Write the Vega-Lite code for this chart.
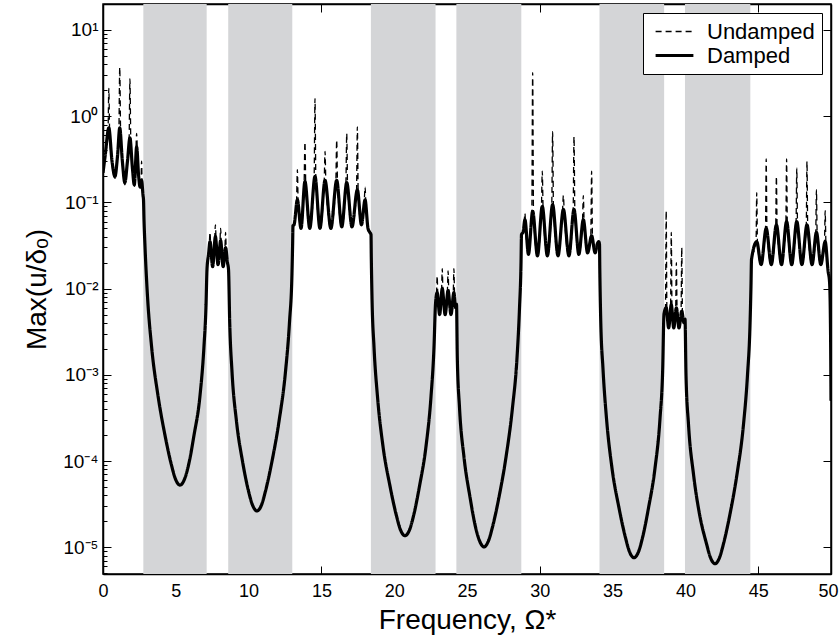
{
"$schema":"https://vega.github.io/schema/vega-lite/v6.json",
"width":728,"height":570,
"autosize":{"type":"none"},
"padding":{"left":103,"top":4,"right":8,"bottom":67},
"background":"white",
"config":{"view":{"stroke":"black","strokeWidth":1.5},"font":"Liberation Sans",
"axis":{"labelFont":"Liberation Sans","titleFont":"Liberation Sans","labelColor":"black","titleColor":"black","domainColor":"black","tickColor":"black","grid":false,"domainWidth":1.5,"tickWidth":1,"titleFontWeight":"normal"}},
"datasets":{
"bands":[{"a":2.77,"b":7.12},{"a":8.6,"b":13.0},{"a":18.4,"b":22.84},{"a":24.27,"b":28.73},{"a":34.1,"b":38.54},{"a":39.97,"b":44.46}],
"curves":[
{"k":"D","f":0,"m":0.22},{"k":"D","f":0.15,"m":0.35},{"k":"D","f":0.4,"m":0.73},{"k":"D","f":0.62,"m":0.3},{"k":"D","f":0.82,"m":0.2},{"k":"D","f":1.0,"m":0.35},{"k":"D","f":1.15,"m":0.73},{"k":"D","f":1.33,"m":0.3},{"k":"D","f":1.5,"m":0.17},{"k":"D","f":1.68,"m":0.3},{"k":"D","f":1.85,"m":0.56},{"k":"D","f":2.02,"m":0.25},{"k":"D","f":2.15,"m":0.16},{"k":"D","f":2.31,"m":0.44},{"k":"D","f":2.45,"m":0.2},{"k":"D","f":2.55,"m":0.15},{"k":"D","f":2.65,"m":0.18},{"k":"D","f":2.75,"m":0.12},
{"k":"U","f":0,"m":0.22},{"k":"U","f":0.15,"m":0.35},{"k":"U","f":0.34,"m":0.6},{"k":"U","f":0.4,"m":2.1},{"k":"U","f":0.46,"m":0.6},{"k":"U","f":0.62,"m":0.28},{"k":"U","f":0.82,"m":0.19},{"k":"U","f":1.0,"m":0.35},{"k":"U","f":1.09,"m":0.65},{"k":"U","f":1.15,"m":3.7},{"k":"U","f":1.21,"m":0.65},{"k":"U","f":1.33,"m":0.28},{"k":"U","f":1.5,"m":0.16},{"k":"U","f":1.68,"m":0.3},{"k":"U","f":1.79,"m":0.5},{"k":"U","f":1.85,"m":2.7},{"k":"U","f":1.91,"m":0.5},{"k":"U","f":2.02,"m":0.24},{"k":"U","f":2.15,"m":0.15},{"k":"U","f":2.26,"m":0.4},{"k":"U","f":2.31,"m":0.63},{"k":"U","f":2.36,"m":0.4},{"k":"U","f":2.45,"m":0.2},{"k":"U","f":2.55,"m":0.15},{"k":"U","f":2.62,"m":0.2},{"k":"U","f":2.65,"m":0.3},{"k":"U","f":2.68,"m":0.18},{"k":"U","f":2.75,"m":0.12},
{"k":"B","f":2.782,"m":0.107},{"k":"B","f":2.816,"m":0.0631},{"k":"B","f":2.885,"m":0.0308},{"k":"B","f":3.056,"m":0.00817},{"k":"B","f":3.331,"m":0.00217},{"k":"B","f":3.777,"m":0.000574},{"k":"B","f":4.258,"m":0.000199},{"k":"B","f":4.705,"m":0.0000895},{"k":"B","f":4.979,"m":0.0000617},{"k":"B","f":5.288,"m":0.0000526},{"k":"B","f":5.597,"m":0.0000617},{"k":"B","f":5.872,"m":0.0000895},{"k":"B","f":6.25,"m":0.000199},{"k":"B","f":6.662,"m":0.000574},{"k":"B","f":6.937,"m":0.00217},{"k":"B","f":7.074,"m":0.00627},{"k":"B","f":7.143,"m":0.01675},
{"k":"D","f":7.25,"m":0.025},{"k":"D","f":7.35,"m":0.035},{"k":"D","f":7.53,"m":0.018},{"k":"D","f":7.72,"m":0.04},{"k":"D","f":7.9,"m":0.019},{"k":"D","f":8.08,"m":0.036},{"k":"D","f":8.25,"m":0.018},{"k":"D","f":8.42,"m":0.03},{"k":"D","f":8.55,"m":0.02},
{"k":"U","f":7.25,"m":0.025},{"k":"U","f":7.3,"m":0.033},{"k":"U","f":7.35,"m":0.045},{"k":"U","f":7.4,"m":0.03},{"k":"U","f":7.53,"m":0.018},{"k":"U","f":7.67,"m":0.037},{"k":"U","f":7.72,"m":0.055},{"k":"U","f":7.77,"m":0.035},{"k":"U","f":7.9,"m":0.019},{"k":"U","f":8.03,"m":0.034},{"k":"U","f":8.08,"m":0.05},{"k":"U","f":8.13,"m":0.03},{"k":"U","f":8.25,"m":0.018},{"k":"U","f":8.37,"m":0.028},{"k":"U","f":8.42,"m":0.045},{"k":"U","f":8.47,"m":0.025},{"k":"U","f":8.55,"m":0.02},
{"k":"B","f":8.62,"m":0.01675},{"k":"B","f":8.702,"m":0.00409},{"k":"B","f":8.86,"m":0.00109},{"k":"B","f":9.169,"m":0.000288},{"k":"B","f":9.581,"m":0.0000995},{"k":"B","f":9.993,"m":0.0000449},{"k":"B","f":10.268,"m":0.0000309},{"k":"B","f":10.577,"m":0.0000264},{"k":"B","f":10.886,"m":0.0000309},{"k":"B","f":11.161,"m":0.0000449},{"k":"B","f":11.607,"m":0.0000995},{"k":"B","f":12.088,"m":0.000288},{"k":"B","f":12.534,"m":0.00109},{"k":"B","f":12.809,"m":0.00409},{"k":"B","f":12.981,"m":0.01545},{"k":"B","f":13.022,"m":0.0317},{"k":"B","f":13.049,"m":0.0538},
{"k":"D","f":13.12,"m":0.055},{"k":"D","f":13.35,"m":0.107},{"k":"D","f":13.6,"m":0.05},{"k":"D","f":13.87,"m":0.175},{"k":"D","f":14.2,"m":0.05},{"k":"D","f":14.56,"m":0.2},{"k":"D","f":14.9,"m":0.05},{"k":"D","f":15.25,"m":0.18},{"k":"D","f":15.65,"m":0.05},{"k":"D","f":16.05,"m":0.18},{"k":"D","f":16.4,"m":0.052},{"k":"D","f":16.74,"m":0.17},{"k":"D","f":17.1,"m":0.052},{"k":"D","f":17.47,"m":0.14},{"k":"D","f":17.75,"m":0.055},{"k":"D","f":18.0,"m":0.107},{"k":"D","f":18.2,"m":0.05},{"k":"D","f":18.32,"m":0.045},
{"k":"U","f":13.12,"m":0.055},{"k":"U","f":13.29,"m":0.1},{"k":"U","f":13.35,"m":0.24},{"k":"U","f":13.41,"m":0.09},{"k":"U","f":13.6,"m":0.05},{"k":"U","f":13.81,"m":0.16},{"k":"U","f":13.87,"m":0.5},{"k":"U","f":13.93,"m":0.15},{"k":"U","f":14.2,"m":0.05},{"k":"U","f":14.5,"m":0.19},{"k":"U","f":14.56,"m":1.6},{"k":"U","f":14.62,"m":0.18},{"k":"U","f":14.9,"m":0.05},{"k":"U","f":15.19,"m":0.17},{"k":"U","f":15.25,"m":0.39},{"k":"U","f":15.31,"m":0.16},{"k":"U","f":15.65,"m":0.05},{"k":"U","f":15.99,"m":0.17},{"k":"U","f":16.05,"m":0.53},{"k":"U","f":16.11,"m":0.16},{"k":"U","f":16.4,"m":0.052},{"k":"U","f":16.68,"m":0.16},{"k":"U","f":16.74,"m":0.63},{"k":"U","f":16.8,"m":0.15},{"k":"U","f":17.1,"m":0.052},{"k":"U","f":17.41,"m":0.13},{"k":"U","f":17.47,"m":0.75},{"k":"U","f":17.53,"m":0.12},{"k":"U","f":17.75,"m":0.055},{"k":"U","f":17.94,"m":0.1},{"k":"U","f":18.0,"m":0.15},{"k":"U","f":18.06,"m":0.09},{"k":"U","f":18.2,"m":0.05},{"k":"U","f":18.32,"m":0.045},
{"k":"B","f":18.407,"m":0.0424},{"k":"B","f":18.427,"m":0.023},{"k":"B","f":18.475,"m":0.00796},{"k":"B","f":18.613,"m":0.00211},{"k":"B","f":18.853,"m":0.000558},{"k":"B","f":19.231,"m":0.000148},{"k":"B","f":19.712,"m":0.0000512},{"k":"B","f":20.158,"m":0.0000231},{"k":"B","f":20.433,"m":0.0000159},{"k":"B","f":20.742,"m":0.0000136},{"k":"B","f":21.051,"m":0.0000159},{"k":"B","f":21.326,"m":0.0000231},{"k":"B","f":21.738,"m":0.0000512},{"k":"B","f":22.184,"m":0.000148},{"k":"B","f":22.527,"m":0.000558},{"k":"B","f":22.734,"m":0.00211},{"k":"B","f":22.837,"m":0.00661},
{"k":"D","f":22.95,"m":0.009},{"k":"D","f":23.12,"m":0.005},{"k":"D","f":23.3,"m":0.01},{"k":"D","f":23.5,"m":0.005},{"k":"D","f":23.7,"m":0.0095},{"k":"D","f":23.9,"m":0.005},{"k":"D","f":24.1,"m":0.009},{"k":"D","f":24.22,"m":0.006},
{"k":"U","f":22.9,"m":0.008},{"k":"U","f":22.95,"m":0.014},{"k":"U","f":23.0,"m":0.008},{"k":"U","f":23.12,"m":0.005},{"k":"U","f":23.25,"m":0.009},{"k":"U","f":23.3,"m":0.017},{"k":"U","f":23.35,"m":0.009},{"k":"U","f":23.5,"m":0.005},{"k":"U","f":23.65,"m":0.009},{"k":"U","f":23.7,"m":0.016},{"k":"U","f":23.75,"m":0.009},{"k":"U","f":23.9,"m":0.005},{"k":"U","f":24.05,"m":0.008},{"k":"U","f":24.1,"m":0.017},{"k":"U","f":24.15,"m":0.008},{"k":"U","f":24.22,"m":0.006},
{"k":"B","f":24.279,"m":0.00661},{"k":"B","f":24.334,"m":0.00157},{"k":"B","f":24.485,"m":0.000418},{"k":"B","f":24.794,"m":0.000111},{"k":"B","f":25.206,"m":0.0000382},{"k":"B","f":25.584,"m":0.0000172},{"k":"B","f":25.859,"m":0.0000119},{"k":"B","f":26.168,"m":0.0000101},{"k":"B","f":26.477,"m":0.0000119},{"k":"B","f":26.752,"m":0.0000172},{"k":"B","f":27.198,"m":0.0000382},{"k":"B","f":27.679,"m":0.000111},{"k":"B","f":28.125,"m":0.000418},{"k":"B","f":28.434,"m":0.00157},{"k":"B","f":28.606,"m":0.00594},{"k":"B","f":28.709,"m":0.0196},{"k":"B","f":28.743,"m":0.0424},
{"k":"D","f":28.85,"m":0.045},{"k":"D","f":28.98,"m":0.063},{"k":"D","f":29.22,"m":0.025},{"k":"D","f":29.51,"m":0.079},{"k":"D","f":29.84,"m":0.024},{"k":"D","f":30.17,"m":0.09},{"k":"D","f":30.52,"m":0.024},{"k":"D","f":30.88,"m":0.094},{"k":"D","f":31.25,"m":0.024},{"k":"D","f":31.62,"m":0.083},{"k":"D","f":32.0,"m":0.024},{"k":"D","f":32.35,"m":0.083},{"k":"D","f":32.68,"m":0.025},{"k":"D","f":32.99,"m":0.063},{"k":"D","f":33.28,"m":0.026},{"k":"D","f":33.56,"m":0.041},{"k":"D","f":33.8,"m":0.026},{"k":"D","f":33.95,"m":0.033},{"k":"D","f":34.05,"m":0.035},
{"k":"U","f":28.85,"m":0.045},{"k":"U","f":28.93,"m":0.06},{"k":"U","f":28.98,"m":0.075},{"k":"U","f":29.03,"m":0.05},{"k":"U","f":29.22,"m":0.025},{"k":"U","f":29.45,"m":0.075},{"k":"U","f":29.51,"m":3.2},{"k":"U","f":29.57,"m":0.07},{"k":"U","f":29.84,"m":0.024},{"k":"U","f":30.11,"m":0.085},{"k":"U","f":30.17,"m":0.23},{"k":"U","f":30.23,"m":0.08},{"k":"U","f":30.52,"m":0.024},{"k":"U","f":30.82,"m":0.09},{"k":"U","f":30.88,"m":0.66},{"k":"U","f":30.94,"m":0.085},{"k":"U","f":31.25,"m":0.024},{"k":"U","f":31.56,"m":0.08},{"k":"U","f":31.62,"m":0.12},{"k":"U","f":31.68,"m":0.075},{"k":"U","f":32.0,"m":0.024},{"k":"U","f":32.29,"m":0.08},{"k":"U","f":32.35,"m":0.58},{"k":"U","f":32.41,"m":0.075},{"k":"U","f":32.68,"m":0.025},{"k":"U","f":32.93,"m":0.06},{"k":"U","f":32.99,"m":0.12},{"k":"U","f":33.05,"m":0.055},{"k":"U","f":33.28,"m":0.026},{"k":"U","f":33.5,"m":0.04},{"k":"U","f":33.56,"m":0.23},{"k":"U","f":33.62,"m":0.038},{"k":"U","f":33.8,"m":0.026},{"k":"U","f":33.95,"m":0.033},{"k":"U","f":34.05,"m":0.035},
{"k":"B","f":34.1,"m":0.0325},{"k":"B","f":34.121,"m":0.01675},{"k":"B","f":34.183,"m":0.00444},{"k":"B","f":34.341,"m":0.00117},{"k":"B","f":34.581,"m":0.000312},{"k":"B","f":34.959,"m":0.0000826},{"k":"B","f":35.44,"m":0.0000286},{"k":"B","f":35.886,"m":0.0000129},{"k":"B","f":36.161,"m":0.00000887},{"k":"B","f":36.47,"m":0.00000757},{"k":"B","f":36.779,"m":0.00000887},{"k":"B","f":37.054,"m":0.0000129},{"k":"B","f":37.466,"m":0.0000286},{"k":"B","f":37.912,"m":0.0000826},{"k":"B","f":38.256,"m":0.000312},{"k":"B","f":38.441,"m":0.00117},{"k":"B","f":38.53,"m":0.00507},
{"k":"D","f":38.68,"m":0.006},{"k":"D","f":38.85,"m":0.0035},{"k":"D","f":39.03,"m":0.0065},{"k":"D","f":39.2,"m":0.0035},{"k":"D","f":39.38,"m":0.006},{"k":"D","f":39.56,"m":0.0035},{"k":"D","f":39.75,"m":0.0055},{"k":"D","f":39.9,"m":0.004},
{"k":"U","f":38.63,"m":0.0055},{"k":"U","f":38.68,"m":0.08},{"k":"U","f":38.73,"m":0.0055},{"k":"U","f":38.85,"m":0.0035},{"k":"U","f":38.98,"m":0.006},{"k":"U","f":39.03,"m":0.045},{"k":"U","f":39.08,"m":0.006},{"k":"U","f":39.2,"m":0.0035},{"k":"U","f":39.33,"m":0.0055},{"k":"U","f":39.38,"m":0.02},{"k":"U","f":39.43,"m":0.0055},{"k":"U","f":39.56,"m":0.0035},{"k":"U","f":39.7,"m":0.005},{"k":"U","f":39.75,"m":0.03},{"k":"U","f":39.8,"m":0.005},{"k":"U","f":39.9,"m":0.004},
{"k":"B","f":39.973,"m":0.00444},{"k":"B","f":40.041,"m":0.001},{"k":"B","f":40.213,"m":0.000266},{"k":"B","f":40.556,"m":0.0000705},{"k":"B","f":40.968,"m":0.0000243},{"k":"B","f":41.449,"m":0.000011},{"k":"B","f":41.724,"m":0.00000757},{"k":"B","f":42.033,"m":0.00000645},{"k":"B","f":42.342,"m":0.00000757},{"k":"B","f":42.617,"m":0.000011},{"k":"B","f":43.063,"m":0.0000243},{"k":"B","f":43.544,"m":0.0000705},{"k":"B","f":43.99,"m":0.000266},{"k":"B","f":44.265,"m":0.001},{"k":"B","f":44.437,"m":0.00378},{"k":"B","f":44.505,"m":0.01094},{"k":"B","f":44.54,"m":0.0218},
{"k":"D","f":44.9,"m":0.035},{"k":"D","f":45.2,"m":0.019},{"k":"D","f":45.55,"m":0.05},{"k":"D","f":45.9,"m":0.019},{"k":"D","f":46.25,"m":0.055},{"k":"D","f":46.6,"m":0.019},{"k":"D","f":46.95,"m":0.06},{"k":"D","f":47.3,"m":0.019},{"k":"D","f":47.65,"m":0.06},{"k":"D","f":48.0,"m":0.019},{"k":"D","f":48.35,"m":0.055},{"k":"D","f":48.7,"m":0.019},{"k":"D","f":49.0,"m":0.045},{"k":"D","f":49.3,"m":0.019},{"k":"D","f":49.6,"m":0.035},{"k":"D","f":49.8,"m":0.016},
{"k":"U","f":44.85,"m":0.033},{"k":"U","f":44.9,"m":0.13},{"k":"U","f":44.95,"m":0.033},{"k":"U","f":45.2,"m":0.019},{"k":"U","f":45.5,"m":0.048},{"k":"U","f":45.55,"m":0.32},{"k":"U","f":45.6,"m":0.048},{"k":"U","f":45.9,"m":0.019},{"k":"U","f":46.2,"m":0.052},{"k":"U","f":46.25,"m":0.2},{"k":"U","f":46.3,"m":0.052},{"k":"U","f":46.6,"m":0.019},{"k":"U","f":46.9,"m":0.058},{"k":"U","f":46.95,"m":0.32},{"k":"U","f":47.0,"m":0.058},{"k":"U","f":47.3,"m":0.019},{"k":"U","f":47.6,"m":0.058},{"k":"U","f":47.65,"m":0.25},{"k":"U","f":47.7,"m":0.058},{"k":"U","f":48.0,"m":0.019},{"k":"U","f":48.3,"m":0.052},{"k":"U","f":48.35,"m":0.3},{"k":"U","f":48.4,"m":0.052},{"k":"U","f":48.7,"m":0.019},{"k":"U","f":48.95,"m":0.043},{"k":"U","f":49.0,"m":0.14},{"k":"U","f":49.05,"m":0.043},{"k":"U","f":49.3,"m":0.019},{"k":"U","f":49.55,"m":0.033},{"k":"U","f":49.6,"m":0.08},{"k":"U","f":49.65,"m":0.033},{"k":"U","f":49.8,"m":0.016},
{"k":"B","f":49.9,"m":0.012},{"k":"B","f":49.97,"m":0.003},{"k":"B","f":50,"m":0.0005}
]},
"layer":[
{"data":{"name":"bands"},"mark":{"type":"rect","color":"#d4d5d7"},
 "encoding":{"x":{"field":"a","type":"quantitative","scale":{"domain":[0,50],"nice":false,"zero":false},"axis":null},"x2":{"field":"b"}}},
{"data":{"name":"curves"},"transform":[{"filter":"datum.k!='D'"}],
 "mark":{"type":"line","color":"black","clip":true,"interpolate":"monotone"},
 "encoding":{
  "x":{"field":"f","type":"quantitative","scale":{"domain":[0,50],"nice":false,"zero":false},
   "axis":{"orient":"bottom","values":[0,5,10,15,20,25,30,35,40,45,50],"tickSize":-8,"labelFontSize":18,"labelPadding":16,"labelFlush":false,"labelBound":false,"labelOffset":{"condition":{"test":"datum.value==50","value":-3},"value":0},"title":"Frequency, Ω*","titleFontSize":28,"titlePadding":6}},
  "y":{"field":"m","type":"quantitative","scale":{"type":"log","domain":[0.0000049,20],"nice":false},
   "axis":{"orient":"left","values":[0.000005,0.000006,0.000007,0.000008,0.000009,0.00001,0.00002,0.00003,0.00004,0.00005,0.00006,0.00007,0.00008,0.00009,0.0001,0.0002,0.0003,0.0004,0.0005,0.0006,0.0007,0.0008,0.0009,0.001,0.002,0.003,0.004,0.005,0.006,0.007,0.008,0.009,0.01,0.02,0.03,0.04,0.05,0.06,0.07,0.08,0.09,0.1,0.2,0.3,0.4,0.5,0.6,0.7,0.8,0.9,1,2,3,4,5,6,7,8,9,10,20],
    "labelExpr":"abs(log(datum.value)/LN10-round(log(datum.value)/LN10))<0.001 ? '10' + ['⁻⁶','⁻⁵','⁻⁴','⁻³','⁻²','⁻¹','⁰','¹'][round(log(datum.value)/LN10)+6] : ''",
    "tickSize":{"condition":{"test":"abs(log(datum.value)/LN10-round(log(datum.value)/LN10))<0.001","value":-8},"value":-4},
    "labelFontSize":19,"labelPadding":13,"labelOverlap":false,"labelFlush":false,"labelBound":false,"title":"Max(u/δₒ)","titleFontSize":28,"titlePadding":11}},
  "strokeDash":{"datum":"Undamped","type":"nominal","scale":{"domain":["Undamped","Damped"],"range":[[6,4],[1,0]]},
   "legend":{"title":null,"orient":"top-right","offset":9,"fillColor":"white","strokeColor":"black","padding":7,"labelFontSize":22,"labelFont":"Liberation Sans","labelColor":"black","symbolType":"M-1.8,0H1.8","symbolSize":441,"symbolStrokeColor":"black","symbolOffset":12,"labelOffset":20,"rowPadding":0}},
  "strokeWidth":{"datum":"Undamped","type":"ordinal","scale":{"domain":["Undamped","Damped"],"range":[1.3,3.2]},
   "legend":{"title":null,"orient":"top-right","offset":9,"fillColor":"white","strokeColor":"black","padding":7,"labelFontSize":22,"labelFont":"Liberation Sans","labelColor":"black","symbolType":"M-1.8,0H1.8","symbolSize":441,"symbolStrokeColor":"black","symbolOffset":12,"labelOffset":20,"rowPadding":0}}
 }},
{"data":{"name":"curves"},"transform":[{"filter":"datum.k!='U'"}],
 "mark":{"type":"line","color":"black","clip":true,"interpolate":"monotone"},
 "encoding":{
  "x":{"field":"f","type":"quantitative","axis":{"orient":"top","values":[5,10,15,20,25,30,35,40,45],"tickSize":-8,"labels":false,"title":null,"domain":true}},
  "y":{"field":"m","type":"quantitative","axis":{"orient":"right","values":[0.00001,0.0001,0.001,0.01,0.1,1,10],"tickSize":-8,"labels":false,"title":null,"domain":true}},
  "strokeDash":{"datum":"Damped","type":"nominal"},
  "strokeWidth":{"datum":"Damped","type":"ordinal"}
 }}
],
"resolve":{"axis":{"x":"independent","y":"independent"}}
}
